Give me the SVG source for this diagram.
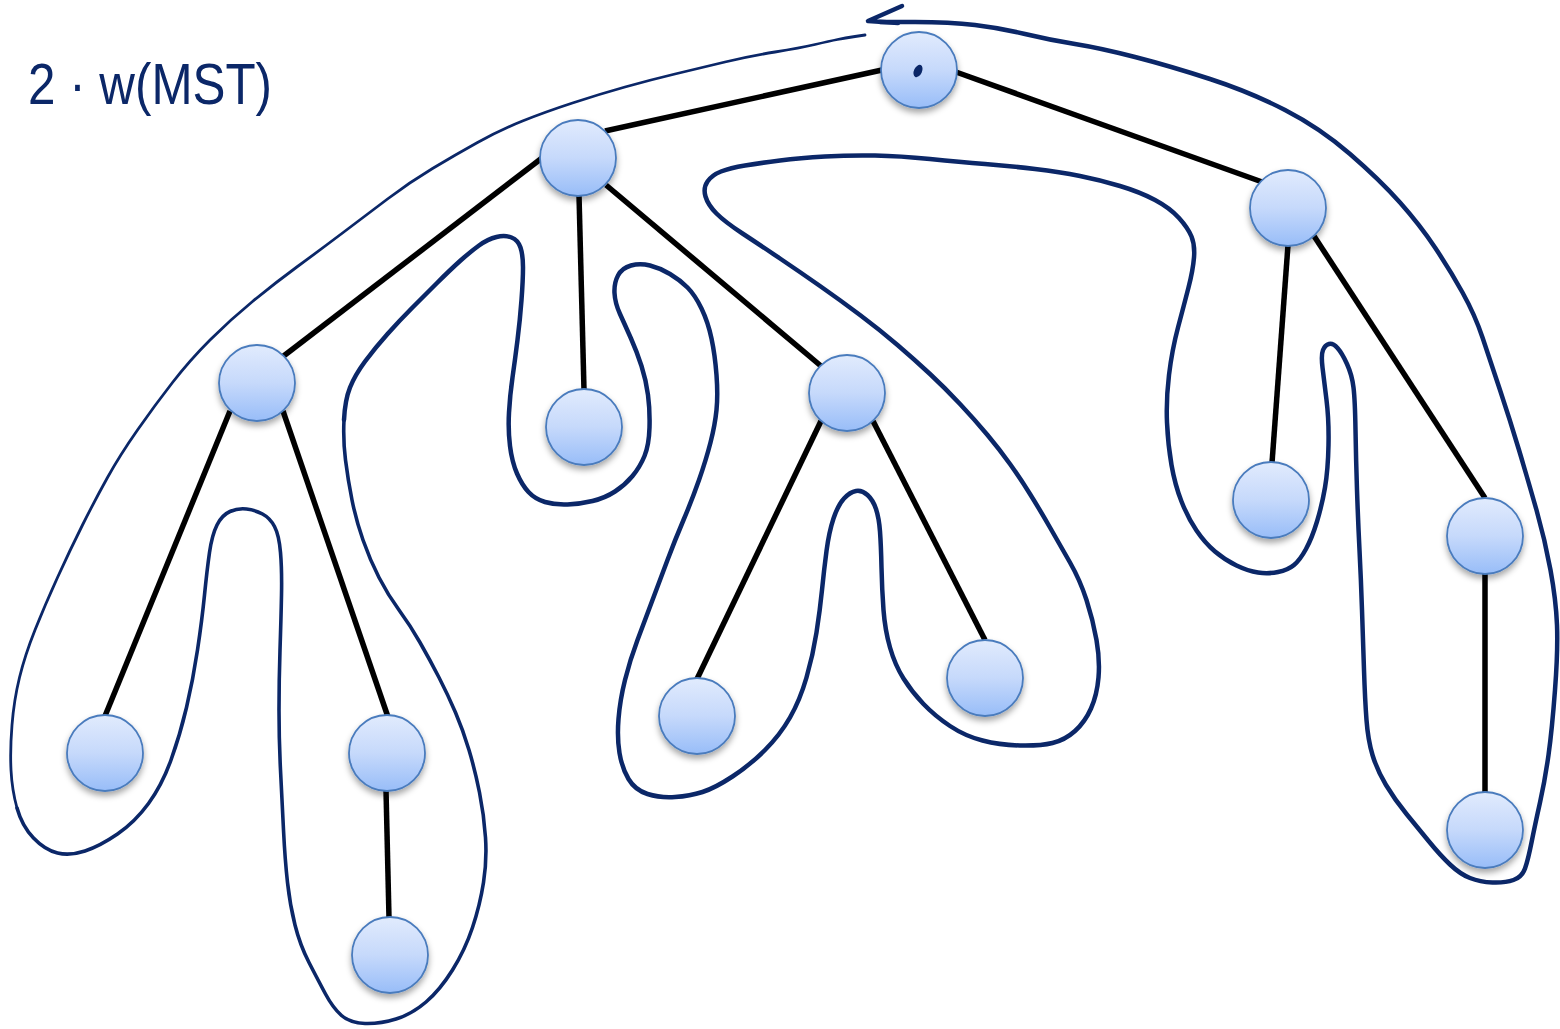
<svg xmlns="http://www.w3.org/2000/svg" width="1560" height="1029" viewBox="0 0 1560 1029">
<defs>
<linearGradient id="ng" x1="0" y1="0" x2="0" y2="1">
<stop offset="0" stop-color="#e1ebfd"/>
<stop offset="0.5" stop-color="#c6d9fb"/>
<stop offset="1" stop-color="#98bdf8"/>
</linearGradient>
<filter id="sh" x="-30%" y="-30%" width="160%" height="170%">
<feDropShadow dx="0" dy="4" stdDeviation="3" flood-color="#000" flood-opacity="0.35"/>
</filter>
</defs>
<style>
.edge{stroke:#000;stroke-width:5.5;fill:none}
.tour{stroke:#0b2768;fill:none;stroke-linejoin:round;stroke-linecap:round}
.t1{stroke-width:4.5}
.t2{stroke-width:3.6}
.t3{stroke-width:2.8}
.node circle{fill:url(#ng);stroke:#4a7bbd;stroke-width:1.8;filter:url(#sh)}
.lbl{font-family:"Liberation Sans",Arial,sans-serif;font-size:58px;fill:#0b2768}
</style>
<rect width="1560" height="1029" fill="#fff"/>
<text class="lbl" x="28" y="104" textLength="244" lengthAdjust="spacingAndGlyphs">2 · w(MST)</text>
<g id="edges">
<line class="edge" x1="882" y1="70" x2="605" y2="131"/>
<line class="edge" x1="956" y1="72" x2="1265" y2="183"/>
<line class="edge" x1="542" y1="158" x2="281" y2="358"/>
<line class="edge" x1="579" y1="195" x2="584" y2="390"/>
<line class="edge" x1="606" y1="185" x2="821" y2="366"/>
<line class="edge" x1="230" y1="411" x2="105" y2="716"/>
<line class="edge" x1="283" y1="411" x2="388" y2="717"/>
<line class="edge" x1="386" y1="790" x2="389" y2="918"/>
<line class="edge" x1="821" y1="421" x2="697" y2="679"/>
<line class="edge" x1="873" y1="421" x2="985" y2="640"/>
<line class="edge" x1="1288" y1="245" x2="1272" y2="463"/>
<line class="edge" x1="1314" y1="236" x2="1485" y2="498"/>
<line class="edge" x1="1485" y1="573" x2="1485" y2="793"/>
</g>
<g id="tour">
<path class="tour t1" d="M902 6 L868 21 L898 23"/>
<path class="tour t1" d="M880 22 L915 22 Q950 22 975 25 Q1000 28 1025 34 Q1050 40 1075 44 Q1100 48 1135 57 Q1170 66 1210 79 Q1250 92 1285 110 Q1320 128 1350 154 Q1380 180 1400 202.5 Q1420 225 1435 247.5 Q1450 270 1462.5 292.5 Q1475 315 1482.5 337.5 Q1490 360 1500 390 Q1510 420 1519 450 Q1528 480 1536.5 510 Q1545 540 1550.5 570 Q1556 600 1557 625 Q1558 650 1555 690 Q1552 730 1548.5 755 Q1545 780 1540 802.5 Q1535 825 1531.5 842.5 Q1528 860 1525 868.5 Q1522 877 1513.5 880 Q1505 883 1492.5 882.5 Q1480 882 1470 878 Q1460 874 1450 864.5 Q1440 855 1429 841.5 Q1418 828 1406.5 814 Q1395 800 1386 785 Q1377 770 1372.5 755 Q1368 740 1366.5 720 Q1365 700 1364 670 Q1363 640 1362 610 Q1361 580 1359.5 550 Q1358 520 1357 490 Q1356 460 1355.5 430 Q1355 400 1353.5 387.5 Q1352 375 1347 364 Q1342 353 1337.5 348 Q1333 343 1329 344 Q1325 345 1323 350 Q1321 355 1322.5 367.5 Q1324 380 1326.5 400 Q1329 420 1328.5 445 Q1328 470 1325 487.5 Q1322 505 1317 521.5 Q1312 538 1306 549 Q1300 560 1294 565 Q1288 570 1278 572 Q1268 574 1258 572.5 Q1248 571 1236.5 565.5 Q1225 560 1215 551.5 Q1205 543 1196.5 530.5 Q1188 518 1181.5 501.5 Q1175 485 1171.5 465 Q1168 445 1167 422.5 Q1166 400 1169 375 Q1172 350 1178 327.5 Q1184 305 1188.5 287.5 Q1193 270 1194 257.5 Q1195 245 1191.5 236.5 Q1188 228 1179 218 Q1170 208 1155 200 Q1140 192 1120 186 Q1100 180 1080 176 Q1060 172 1035 169 Q1010 166 985 164 Q960 162 930 159 Q900 156 875 155.5 Q850 155 825 156.5 Q800 158 780 160.5 Q760 163 745 165.5 Q730 168 721 171.5 Q712 175 707.5 181.5 Q703 188 705.5 196.5 Q708 205 716.5 213.5 Q725 222 742.5 233.5 Q760 245 780 258.5 Q800 272 820 286 Q840 300 860 315 Q880 330 897.5 345 Q915 360 930 374 Q945 388 960 404 Q975 420 987.5 435 Q1000 450 1010 464 Q1020 478 1030 494 Q1040 510 1050 527.5 Q1060 545 1070 562.5 Q1080 580 1086.5 600 Q1093 620 1096.5 640 Q1100 660 1098.5 677.5 Q1097 695 1091 708.5 Q1085 722 1075 731 Q1065 740 1052.5 743 Q1040 746 1020 745.5 Q1000 745 982.5 740.5 Q965 736 950 726 Q935 716 923.5 704 Q912 692 903.5 678.5 Q895 665 890 647.5 Q885 630 883.5 610 Q882 590 881.5 567.5 Q881 545 880 531.5 Q879 518 876 509 Q873 500 867.5 495 Q862 490 856 491 Q850 492 844 498.5 Q838 505 833.5 518.5 Q829 532 826.5 551 Q824 570 822 590 Q820 610 816.5 632.5 Q813 655 806.5 677.5 Q800 700 790 717.5 Q780 735 765 750 Q750 765 732.5 776.5 Q715 788 702.5 792 Q690 796 675 797 Q660 798 647.5 794 Q635 790 628.5 779 Q622 768 619.5 753 Q617 738 618.5 719 Q620 700 625 680 Q630 660 637.5 640 Q645 620 652.5 600 Q660 580 667.5 560 Q675 540 683.5 520 Q692 500 699 480 Q706 460 710.5 442.5 Q715 425 716.5 410 Q718 395 716.5 375 Q715 355 711.5 338.5 Q708 322 701.5 308.5 Q695 295 687.5 287.5 Q680 280 670 274 Q660 268 650 265.5 Q640 263 631 265.5 Q622 268 618 275.5 Q614 283 614.5 293 Q615 303 620 314 Q625 325 631 338.5 Q637 352 641.5 366 Q646 380 648 395 Q650 410 649.5 427.5 Q649 445 644.5 456 Q640 467 632.5 476 Q625 485 615 491.5 Q605 498 592.5 501 Q580 504 567.5 504.5 Q555 505 545 502 Q535 499 528.5 492 Q522 485 517 473.5 Q512 462 510 446 Q508 430 509 412.5 Q510 395 512.5 377.5 Q515 360 517.5 340 Q520 320 521.5 300 Q523 280 523 267.5 Q523 255 520.5 247.5 Q518 240 511.5 237.5 Q505 235 496.5 237 Q488 239 479 245.5 Q470 252 460 261 Q450 270 437.5 282.5 Q425 295 412.5 307.5 Q400 320 387.5 334 Q375 348 365 361.5 Q355 375 350 387.5 Q345 400 344 420"/>
<path class="tour t2" d="M344 420 Q343 440 345.5 460 Q348 480 352 500 Q356 520 363 540 Q370 560 379 577.5 Q388 595 399 610 Q410 625 420 642.5 Q430 660 439 677.5 Q448 695 455.5 712.5 Q463 730 469 750 Q475 770 479.5 792.5 Q484 815 485.5 837.5 Q487 860 483.5 882.5 Q480 905 472.5 927.5 Q465 950 452.5 970 Q440 990 426 1002 Q412 1014 396 1019 Q380 1024 365 1023.5 Q350 1023 341.5 1015.5 Q333 1008 325.5 994 Q318 980 309 962.5 Q300 945 295 925 Q290 905 287.5 882.5 Q285 860 283.5 830 Q282 800 280.5 770 Q279 740 279 710 Q279 680 280 650 Q281 620 281.5 595 Q282 570 280.5 552.5 Q279 535 274.5 526.5 Q270 518 262.5 514 Q255 510 246.5 509 Q238 508 230 511.5 Q222 515 217 525 Q212 535 209.5 552.5 Q207 570 204.5 595 Q202 620 197.5 650 Q193 680 186.5 707.5 Q180 735 171 760 Q162 785 148.5 803.5 Q135 822 117.5 834 Q100 846 85 851 Q70 856 57.5 853 Q45 850 33.5 838 Q22 826 17 808"/>
<path class="tour t3" d="M17 808 Q12 790 11 770 Q10 750 12 725 Q14 700 19.5 677.5 Q25 655 35 630 Q45 605 57.5 577.5 Q70 550 82.5 525 Q95 500 107.5 477.5 Q120 455 137.5 430 Q155 405 172.5 382.5 Q190 360 210 340 Q230 320 252.5 301.5 Q275 283 297.5 266.5 Q320 250 342.5 233 Q365 216 387.5 199 Q410 182 432.5 168.5 Q455 155 477.5 142.5 Q500 130 522.5 121 Q545 112 572.5 103 Q600 94 625 87 Q650 80 675 74 Q700 68 725 62 Q750 56 775 52 Q800 48 815 44.5 Q830 41 837.5 39.5 Q845 38 855 36.5 L865 35"/>
</g>
<g id="node-root" class="node"><circle cx="919" cy="70" r="38"/><ellipse cx="918" cy="71" rx="4" ry="6.5" transform="rotate(25 918 71)" fill="#0b2768"/></g>
<g id="node-a" class="node"><circle cx="578" cy="158" r="38"/></g>
<g id="node-b" class="node"><circle cx="1288" cy="208" r="38"/></g>
<g id="node-c" class="node"><circle cx="257" cy="383" r="38"/></g>
<g id="node-d" class="node"><circle cx="584" cy="427" r="38"/></g>
<g id="node-e" class="node"><circle cx="847" cy="393" r="38"/></g>
<g id="node-f" class="node"><circle cx="105" cy="753" r="38"/></g>
<g id="node-g" class="node"><circle cx="387" cy="753" r="38"/></g>
<g id="node-h" class="node"><circle cx="390" cy="955" r="38"/></g>
<g id="node-i" class="node"><circle cx="697" cy="716" r="38"/></g>
<g id="node-j" class="node"><circle cx="985" cy="678" r="38"/></g>
<g id="node-k" class="node"><circle cx="1271" cy="500" r="38"/></g>
<g id="node-l" class="node"><circle cx="1485" cy="536" r="38"/></g>
<g id="node-m" class="node"><circle cx="1485" cy="830" r="38"/></g>
</svg>
